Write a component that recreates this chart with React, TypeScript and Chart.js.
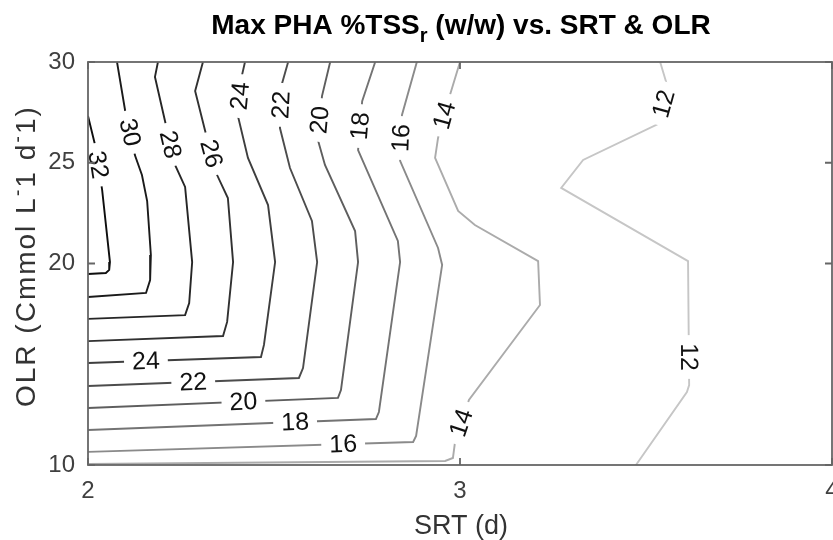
import { useEffect, useRef } from 'react';
import { Chart, registerables } from 'chart.js';

Chart.register(...registerables);

const FONT = '"Liberation Sans", Arial, Helvetica, sans-serif';

// contour levels (Max PHA %TSS_r)
const contourLevels = [32, 30, 28, 26, 24, 22, 20, 18, 16, 14, 12];
const srtTicks = [2, 3, 4];
const olrTicks = [10, 20, 25, 30];

// contour polylines: [SRT (d), OLR]
const line32: [number, number][] = [[2.0, 27.32], [2.019, 25.88], [2.038, 23.65], [2.059, 20.07], [2.057, 19.68], [2.048, 19.53], [2.0, 19.48]];
const line30: [number, number][] = [[2.078, 30], [2.1, 27.57], [2.126, 25.38], [2.145, 24.39], [2.159, 23.1], [2.169, 20.42], [2.167, 19.18], [2.156, 18.54], [2.0, 18.34]];
const line28: [number, number][] = [[2.188, 30], [2.18, 29.26], [2.207, 27.07], [2.234, 24.89], [2.261, 23.8], [2.28, 20.07], [2.272, 18.04], [2.261, 17.44], [2.0, 17.25]];
const line26: [number, number][] = [[2.309, 30], [2.288, 28.56], [2.315, 26.58], [2.347, 24.39], [2.376, 23.25], [2.39, 20.07], [2.374, 17.1], [2.363, 16.4], [2.0, 16.15]];
const line24: [number, number][] = [[2.422, 30], [2.414, 29.35], [2.403, 27.32], [2.43, 25.24], [2.484, 22.9], [2.503, 20.07], [2.473, 15.96], [2.465, 15.36], [2.0, 15.06]];
const line22: [number, number][] = [[2.538, 30], [2.522, 28.96], [2.516, 26.72], [2.543, 24.74], [2.602, 22.11], [2.616, 20.07], [2.578, 14.81], [2.567, 14.32], [2.0, 13.92]];
const line20: [number, number][] = [[2.651, 30], [2.629, 28.31], [2.618, 26.13], [2.637, 24.89], [2.718, 21.61], [2.726, 20.07], [2.68, 13.72], [2.672, 13.33], [2.0, 12.83]];
const line18: [number, number][] = [[2.772, 30], [2.737, 28.06], [2.726, 25.63], [2.833, 21.12], [2.839, 20.07], [2.782, 12.63], [2.774, 12.28], [2.0, 11.74]];
const line16: [number, number][] = [[2.884, 30], [2.844, 27.37], [2.839, 25.09], [2.941, 20.77], [2.952, 19.93], [2.882, 11.44], [2.874, 11.14], [2.0, 10.65]];
const line14: [number, number][] = [[3.0, 30], [2.973, 28.36], [2.941, 26.23], [2.933, 25.24], [2.995, 22.61], [3.04, 21.91], [3.21, 20.12], [3.215, 17.94], [3.024, 13.23], [2.987, 11.19], [2.981, 10.35], [2.96, 10.2], [2.0, 10.05]];
const line12: [number, number][] = [[3.538, 30], [3.559, 28.71], [3.532, 26.92], [3.331, 25.14], [3.272, 23.75], [3.613, 20.12], [3.616, 13.97], [3.61, 13.62], [3.473, 10.0]];

const contourLines = [line32, line30, line28, line26, line24, line22, line20, line18, line16, line14, line12];
const contourColors = ['#0e0e0e', '#1a1a1a', '#262626', '#313131', '#3e3e3e', '#4c4c4c', '#5e5e5e', '#737373', '#8a8a8a', '#ababab', '#c6c6c6'];

// inline contour labels
const labelLevels = [32, 30, 28, 26, 24, 22, 20, 18, 16, 14, 12, 24, 22, 20, 18, 16, 14, 12];
const labelSRT = [2.024, 2.105, 2.215, 2.317, 2.409, 2.519, 2.624, 2.731, 2.839, 2.965, 3.548, 2.156, 2.283, 2.418, 2.557, 2.686, 3.005, 3.616];
const labelOLR = [24.89, 26.48, 25.88, 25.38, 28.31, 27.87, 27.12, 26.82, 26.23, 27.32, 27.92, 15.01, 14.07, 13.03, 11.99, 10.99, 12.08, 15.36];

type Part = { t: string; k: 'n' | 'sub' | 'sup' };

function drawParts(ctx: CanvasRenderingContext2D, parts: Part[], size: number, weight: string, x: number, y: number, align: 'center' | 'left', spacing = 0) {
  const small = Math.round(size * 0.7);
  (ctx as any).letterSpacing = `${spacing}px`;
  const widths = parts.map((p) => {
    ctx.font = `${weight} ${p.k === 'n' ? size : small}px ${FONT}`;
    return ctx.measureText(p.t).width;
  });
  const total = widths.reduce((a, b) => a + b, 0);
  let cx = align === 'center' ? x - total / 2 : x;
  ctx.textAlign = 'left';
  ctx.textBaseline = 'alphabetic';
  parts.forEach((p, i) => {
    ctx.font = `${weight} ${p.k === 'n' ? size : small}px ${FONT}`;
    const dy = p.k === 'sub' ? size * 0.3 : p.k === 'sup' ? -size * 0.4 : 0;
    ctx.fillText(p.t, cx, y + dy);
    cx += widths[i];
  });
  (ctx as any).letterSpacing = '0px';
}

const contourPlugin = {
  id: 'contourDecor',
  afterDatasetsDraw(chart: any) {
    const { ctx, scales } = chart;
    const xs = scales.x;
    const ys = scales.y;
    ctx.save();
    ctx.font = `25px ${FONT}`;
    labelLevels.forEach((lvl, i) => {
      const idx = contourLevels.indexOf(lvl);
      const pts = contourLines[idx].map(([a, b]) => [xs.getPixelForValue(a), ys.getPixelForValue(b)]);
      const px = xs.getPixelForValue(labelSRT[i]);
      const py = ys.getPixelForValue(labelOLR[i]);
      let best = Infinity;
      let bx = px, by = py, ang = 0;
      for (let j = 0; j < pts.length - 1; j++) {
        const [x1, y1] = pts[j];
        const [x2, y2] = pts[j + 1];
        const dx = x2 - x1, dy = y2 - y1;
        const L2 = dx * dx + dy * dy || 1;
        let t = ((px - x1) * dx + (py - y1) * dy) / L2;
        t = Math.max(0, Math.min(1, t));
        const qx = x1 + t * dx, qy = y1 + t * dy;
        const d = (qx - px) ** 2 + (qy - py) ** 2;
        if (d < best) {
          best = d; bx = qx; by = qy; ang = Math.atan2(dy, dx);
        }
      }
      if (ang > Math.PI / 2 + 1e-6) ang -= Math.PI;
      if (ang <= -Math.PI / 2 - 1e-6) ang += Math.PI;
      const text = String(lvl);
      const w = ctx.measureText(text).width;
      ctx.save();
      ctx.translate(bx, by);
      ctx.rotate(ang);
      ctx.fillStyle = '#ffffff';
      ctx.fillRect(-w / 2 - 8, -11, w + 16, 22);
      ctx.fillStyle = '#111111';
      ctx.textAlign = 'center';
      ctx.textBaseline = 'middle';
      ctx.fillText(text, 0, 1);
      ctx.restore();
    });
    ctx.restore();
  },
  afterDraw(chart: any) {
    const { ctx, chartArea, scales } = chart;
    const { left, right, top, bottom } = chartArea;
    ctx.save();
    // box
    ctx.strokeStyle = '#666666';
    ctx.lineWidth = 1.8;
    ctx.strokeRect(left, top, right - left, bottom - top);
    // inward ticks
    ctx.beginPath();
    srtTicks.forEach((v) => {
      const x = scales.x.getPixelForValue(v);
      ctx.moveTo(x, bottom); ctx.lineTo(x, bottom - 7);
      ctx.moveTo(x, top); ctx.lineTo(x, top + 7);
    });
    olrTicks.forEach((v) => {
      const y = scales.y.getPixelForValue(v);
      ctx.moveTo(left, y); ctx.lineTo(left + 7, y);
      ctx.moveTo(right, y); ctx.lineTo(right - 7, y);
    });
    ctx.stroke();
    // title
    ctx.fillStyle = '#000000';
    drawParts(ctx, [
      { t: 'Max PHA %TSS', k: 'n' },
      { t: 'r', k: 'sub' },
      { t: ' (w/w) vs. SRT & OLR', k: 'n' },
    ], 28, 'bold', (left + right) / 2 + 1, 34, 'center');
    // x title
    ctx.fillStyle = '#333333';
    drawParts(ctx, [{ t: 'SRT (d)', k: 'n' }], 27, 'normal', (left + right) / 2 + 1, 534, 'center');
    // y title
    ctx.save();
    ctx.translate(35, 407);
    ctx.rotate(-Math.PI / 2);
    drawParts(ctx, [
      { t: 'OLR (Cmmol L', k: 'n' },
      { t: '-', k: 'sup' },
      { t: '1 d', k: 'n' },
      { t: '-', k: 'sup' },
      { t: '1)', k: 'n' },
    ], 28, 'normal', 0, 0, 'left', 2);
    ctx.restore();
    ctx.restore();
  },
};

export default function App() {
  const ref = useRef<HTMLCanvasElement | null>(null);
  useEffect(() => {
    document.body.style.margin = '0';
    document.body.style.overflow = 'hidden';
    if (!ref.current) return;
    const datasets = contourLines.map((pts, i) => ({
      label: String(contourLevels[i]),
      data: pts.map(([x, y]) => ({ x, y })),
      showLine: true,
      borderColor: contourColors[i],
      borderWidth: 1.9,
      pointRadius: 0,
      tension: 0,
      fill: false,
    }));
    const chart = new Chart(ref.current, {
      type: 'scatter',
      data: { datasets },
      options: {
        animation: false,
        responsive: false,
        devicePixelRatio: 1,
        layout: { padding: { top: 62, right: 1, left: 0, bottom: 0 } },
        plugins: {
          legend: { display: false },
          tooltip: { enabled: false },
          title: { display: false },
        },
        scales: {
          x: {
            type: 'linear',
            min: 2,
            max: 4,
            afterBuildTicks: (s: any) => { s.ticks = srtTicks.map((v) => ({ value: v })); },
            afterFit: (s: any) => { s.height = 75; s.paddingRight = 0; s.paddingLeft = 0; },
            grid: { display: false, drawTicks: false },
            border: { display: false },
            ticks: { font: { family: FONT, size: 24 }, color: '#404040', padding: 12, maxRotation: 0, autoSkip: false },
          },
          y: {
            type: 'linear',
            min: 10,
            max: 30,
            afterBuildTicks: (s: any) => { s.ticks = olrTicks.map((v) => ({ value: v })); },
            afterFit: (s: any) => { s.width = 88; s.paddingTop = 0; s.paddingBottom = 0; },
            grid: { display: false, drawTicks: false },
            border: { display: false },
            ticks: { font: { family: FONT, size: 24 }, color: '#404040', padding: 13, autoSkip: false },
          },
        },
      },
      plugins: [contourPlugin],
    });
    return () => chart.destroy();
  }, []);
  return (
    <div style={{ width: 833, height: 540, overflow: 'hidden' }}>
      <canvas ref={ref} width={833} height={540} style={{ display: 'block' }} />
    </div>
  );
}
